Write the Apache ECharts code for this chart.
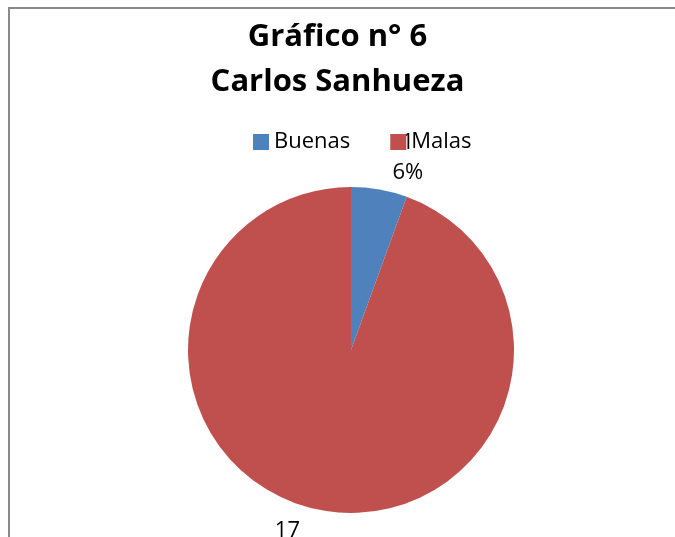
<!DOCTYPE html>
<html>
<head>
<meta charset="utf-8">
<script src="https://cdn.jsdelivr.net/npm/echarts@6/dist/echarts.min.js"></script>
<style>
html,body{margin:0;padding:0;background:#fff;}
#c{width:675px;height:537px;}
</style>
</head>
<body>
<div id="c"></div>
<script>
var titleLines = ['Gráfico n° 6', 'Carlos Sanhueza'];
var categories = ['Buenas', 'Malas'];
var values = [1, 17];
var colors = ['#4F81BD', '#C0504D'];

var chart = echarts.init(document.getElementById('c'), null, {renderer: 'canvas'});
var pieData = categories.map(function (name, i) {
  var item = {name: name, value: values[i], itemStyle: {color: colors[i]}};
  if (i === 0) {
    item.labelLine = {show: false, length: 32, length2: 18};
  } else {
    item.labelLine = {show: false, length: 36, length2: 0};
    item.label = {distanceToLabelLine: 29};
  }
  return item;
});

chart.setOption({
  animation: false,
  backgroundColor: '#ffffff',
  title: {
    text: titleLines.join('\n'),
    left: 'center',
    top: 10,
    textStyle: {fontFamily: 'Open Sans', fontWeight: 'bold', fontSize: 31, lineHeight: 45, color: '#000'}
  },
  legend: {
    data: categories,
    left: 253,
    top: 131,
    orient: 'horizontal',
    itemWidth: 16,
    itemHeight: 16,
    itemGap: 40,
    padding: 0,
    icon: 'rect',
    textStyle: {fontFamily: 'Open Sans', fontSize: 22, color: '#000', padding: [0, 0, 0, 0]}
  },
  graphic: [{
    type: 'rect',
    shape: {x: 9, y: 8, width: 720, height: 600},
    style: {fill: 'none', stroke: '#8a8a8a', lineWidth: 2},
    z: 10
  }],
  series: [{
    type: 'pie',
    center: [351, 350],
    radius: 163,
    startAngle: 90,
    clockwise: true,
    avoidLabelOverlap: false,
    percentPrecision: 0,
    data: pieData,
    itemStyle: {borderWidth: 0},
    label: {
      show: true,
      position: 'outside',
      formatter: '{c}\n{d}%',
      fontFamily: 'Open Sans',
      fontSize: 22,
      lineHeight: 30,
      color: '#000'
    },
    labelLayout: {align: 'center'},
    emphasis: {disabled: true}
  }]
});
</script>
</body>
</html>
